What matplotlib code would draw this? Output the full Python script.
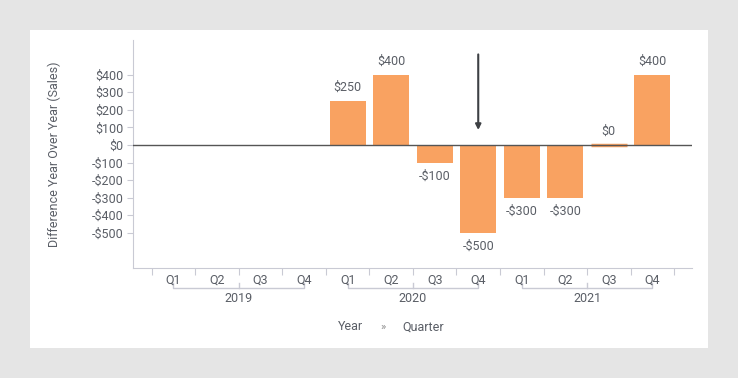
import matplotlib.pyplot as plt
from matplotlib.patches import Rectangle
from matplotlib.transforms import blended_transform_factory

plt.rcParams['font.family'] = ['Roboto', 'DejaVu Sans']

years = ['2019', '2020', '2021']
quarters = ['Q1', 'Q2', 'Q3', 'Q4']
# None = no bar (2019 has no previous year)
diff = [None, None, None, None, 250, 400, -100, -500, -300, -300, 0, 400]
yticks = [400, 300, 200, 100, 0, -100, -200, -300, -400, -500]

bar_col = '#f9a261'
txt_col = '#5a5e66'
spine_col = '#c9cad4'

fig = plt.figure(figsize=(7.38, 3.78), dpi=100)
fig.patch.set_facecolor('#e5e5e5')
fig.patches.append(Rectangle((30 / 738, 1 - 348 / 378), 678 / 738, 318 / 378,
                             transform=fig.transFigure, facecolor='white',
                             edgecolor='none', zorder=-10))

ax = fig.add_axes([133 / 738, 1 - 268 / 378, 559 / 738, 228 / 378])
ax.set_facecolor('none')

idx = [i for i, v in enumerate(diff) if v is not None]
vals = [diff[i] for i in idx]
# zero bars get an edge so they still show as a thin sliver
ax.bar(idx, vals, width=0.83, color=bar_col, edgecolor=bar_col,
       linewidth=[2.5 if v == 0 else 0 for v in vals], zorder=2)

for i, v in zip(idx, vals):
    lab = f'${v}' if v >= 0 else f'-${-v}'
    if v >= 0:
        ax.annotate(lab, (i, v), xytext=(0, 5), textcoords='offset points',
                    ha='center', va='bottom', fontsize=9, color=txt_col)
    else:
        ax.annotate(lab, (i, v), xytext=(0, -5), textcoords='offset points',
                    ha='center', va='top', fontsize=9, color=txt_col)

ax.axhline(0, color='#555555', lw=1, zorder=3)

# arrow pointing at 2020 Q4
ax.annotate('', xy=(7, 85), xytext=(7, 515),
            arrowprops=dict(arrowstyle='-|>', color='#3d4044', lw=1.5,
                            mutation_scale=8, shrinkA=0, shrinkB=0))

ax.set_xlim(-0.93, 11.91)
ax.set_ylim(-700, 597)
ax.set_yticks(yticks)
ax.set_yticklabels([f'${t}' if t >= 0 else f'-${-t}' for t in yticks])
ax.tick_params(axis='y', colors=spine_col, labelcolor=txt_col, labelsize=9,
               length=4, pad=3)

n = len(years) * len(quarters)
ax.set_xticks([k - 0.5 for k in range(n + 1)])
ax.set_xticklabels([])
ax.tick_params(axis='x', colors=spine_col, length=5)

for s in ['top', 'right']:
    ax.spines[s].set_visible(False)
for s in ['left', 'bottom']:
    ax.spines[s].set_color(spine_col)

ax.set_ylabel('Difference Year Over Year (Sales)', color=txt_col, fontsize=9,
              labelpad=22)

tr = blended_transform_factory(ax.transData, ax.transAxes)
for yi, yr in enumerate(years):
    for qi, q in enumerate(quarters):
        k = yi * 4 + qi
        ax.text(k, -0.053, q, transform=tr, ha='center', va='center',
                fontsize=9, color=txt_col)
    a, b = yi * 4, yi * 4 + 3
    ax.plot([a, a, b, b], [-0.066, -0.088, -0.088, -0.066], transform=tr,
            color=spine_col, lw=1, clip_on=False)
    ax.plot([a + 1.5, a + 1.5], [-0.088, -0.066], transform=tr,
            color=spine_col, lw=1, clip_on=False)
    ax.text(a + 1.5, -0.135, yr, transform=tr, ha='center', va='center',
            fontsize=9, color=txt_col)

fig.text(350 / 738, 1 - 327 / 378, 'Year', ha='center', va='center',
         fontsize=9, color=txt_col)
fig.text(383 / 738, 1 - 327 / 378, '»', ha='center', va='center',
         fontsize=8, color='#888888')
fig.text(423 / 738, 1 - 327 / 378, 'Quarter', ha='center', va='center',
         fontsize=9, color=txt_col)

fig.savefig('out.png', dpi=100, facecolor=fig.get_facecolor())
